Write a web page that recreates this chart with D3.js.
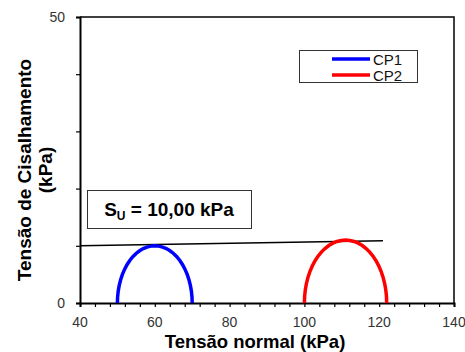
<!DOCTYPE html>
<html>
<head>
<meta charset="utf-8">
<script src="https://cdn.jsdelivr.net/npm/d3@7"></script>
<style>
  body { margin: 0; background: #fff; }
  text { font-family: Arial, "Liberation Sans", sans-serif; }
</style>
</head>
<body>
<script>
// Mohr circles (sigma3, sigma1) for each specimen
let specimens = ['CP1', 'CP2'];
let sigma3 = [50, 100];
let sigma1 = [70, 122];
let colors = ['#0000ff', '#ff0000'];

// envelope line
let envX = [40, 121];
let envY = [10.0, 10.9];

let xTicks = [40, 60, 80, 100, 120, 140];
let yTicks = [0, 50];
let suLabel = '10,00 kPa';

let width = 465, height = 352;
let svg = d3.select('body').append('svg')
  .attr('width', width)
  .attr('height', height);

let x = d3.scaleLinear().domain([40, 140]).range([80, 454]);
let y = d3.scaleLinear().domain([0, 50]).range([303, 17]);

// frame (top and right)
svg.append('path')
  .attr('d', `M${x(40)},${y(50)}H${x(140)}V${y(0)}`)
  .attr('fill', 'none')
  .attr('stroke', '#000')
  .attr('stroke-width', 1.5);

// x axis
let xAxis = svg.append('g')
  .attr('transform', `translate(0,${y(0)})`)
  .call(d3.axisBottom(x).tickValues(d3.range(40, 141, 4)).tickSize(4).tickFormat(''));
xAxis.select('.domain').attr('stroke-width', 2);
xAxis.selectAll('.tick line').attr('stroke-width', 1.2);

svg.selectAll('.xlab')
  .data(xTicks)
  .enter()
  .append('text')
  .attr('class', 'xlab')
  .attr('x', d => x(d))
  .attr('y', 327)
  .attr('text-anchor', 'middle')
  .attr('font-size', '14px')
  .attr('fill', '#333')
  .text(d => d);

// y axis
let yAxis = svg.append('g')
  .attr('transform', `translate(${x(40)},0)`)
  .call(d3.axisLeft(y).tickValues(d3.range(0, 51, 10)).tickSize(4).tickFormat(''));
yAxis.select('.domain').attr('stroke-width', 2);
yAxis.selectAll('.tick line').attr('stroke-width', 1.2);

svg.selectAll('.ylab')
  .data(yTicks)
  .enter()
  .append('text')
  .attr('class', 'ylab')
  .attr('x', 65)
  .attr('y', d => y(d) + 5)
  .attr('text-anchor', 'end')
  .attr('font-size', '14px')
  .attr('fill', '#333')
  .text(d => d);

// axis titles
svg.append('text')
  .attr('x', 255)
  .attr('y', 348)
  .attr('text-anchor', 'middle')
  .attr('font-size', '18.5px')
  .attr('font-weight', 'bold')
  .text('Tensão normal (kPa)');

let yt = svg.append('text')
  .attr('transform', 'translate(31,170) rotate(-90)')
  .attr('text-anchor', 'middle')
  .attr('font-size', '19px')
  .attr('font-weight', 'bold');
yt.append('tspan').attr('x', 0).attr('dy', 0).text('Tensão de Cisalhamento');
yt.append('tspan').attr('x', 0).attr('dy', 21).text('(kPa)');

// envelope
let line = d3.line().x(d => x(d[0])).y(d => y(d[1]));
svg.append('path')
  .datum(d3.zip(envX, envY))
  .attr('d', line)
  .attr('fill', 'none')
  .attr('stroke', '#000')
  .attr('stroke-width', 1.5);

// Mohr circles (upper half)
let angles = d3.range(0, 181, 6).map(a => a * Math.PI / 180);
specimens.forEach((s, i) => {
  let c = (sigma1[i] + sigma3[i]) / 2;
  let r = (sigma1[i] - sigma3[i]) / 2;
  let pts = angles.map(a => [c - r * Math.cos(a), r * Math.sin(a)]);
  svg.append('path')
    .datum(pts)
    .attr('d', line)
    .attr('fill', 'none')
    .attr('stroke', colors[i])
    .attr('stroke-width', 3.5);
});

// Su box
svg.append('rect')
  .attr('x', 87.5).attr('y', 190.5)
  .attr('width', 164).attr('height', 38)
  .attr('fill', '#fff')
  .attr('stroke', '#333')
  .attr('stroke-width', 1);
let su = svg.append('text')
  .attr('x', 169)
  .attr('y', 216)
  .attr('text-anchor', 'middle')
  .attr('font-size', '19px')
  .attr('font-weight', 'bold');
su.append('tspan').text('S');
su.append('tspan').attr('font-size', '12px').attr('dy', 4).text('U');
su.append('tspan').attr('dy', -4).text(' = ' + suLabel);

// legend
svg.append('rect')
  .attr('x', 299.5).attr('y', 50.5)
  .attr('width', 118).attr('height', 32)
  .attr('fill', '#fff')
  .attr('stroke', '#333')
  .attr('stroke-width', 1);
specimens.forEach((s, i) => {
  let ly = 59 + i * 16;
  svg.append('line')
    .attr('x1', 332).attr('x2', 370)
    .attr('y1', ly).attr('y2', ly)
    .attr('stroke', colors[i])
    .attr('stroke-width', 3.5);
  svg.append('text')
    .attr('x', 373)
    .attr('y', ly + 6)
    .attr('font-size', '15px')
    .attr('fill', '#111')
    .text(s);
});
</script>
</body>
</html>
